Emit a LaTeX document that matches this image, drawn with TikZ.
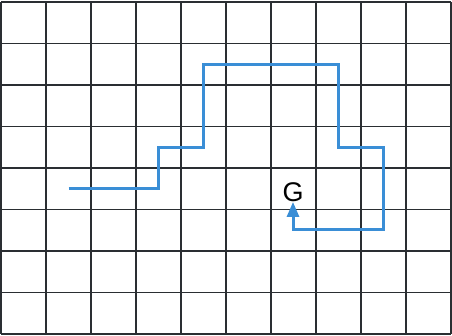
\documentclass[tikz,border=0pt]{standalone}
\usepackage{fontspec}
\setmainfont{Liberation Sans}
\usetikzlibrary{arrows.meta}
\definecolor{pathblue}{HTML}{3A8ED6}
\definecolor{gridline}{HTML}{2A2E32}
\tikzset{
  gridstyle/.style={draw=gridline, line width=1.1pt},
  route/.style={draw=pathblue, line width=3pt, line join=miter},
  goal/.style={inner sep=0pt, anchor=base, font=\fontsize{27}{27}\selectfont, text=black}
}
\begin{document}
\begin{tikzpicture}[x=1pt,y=-1pt]
\useasboundingbox (0,0) rectangle (452,336);
\fill[white] (0,0) rectangle (452,336);
% grid
\foreach \i in {0,...,10} {
  \draw[gridstyle] ({1+45*\i},2) -- ({1+45*\i},334);
}
\foreach \j in {0,...,8} {
  \draw[gridstyle] (1,{2+41.5*\j}) -- (451,{2+41.5*\j});
}
% goal
\node[goal] (G) at (293,201.5) {G};
% route
\coordinate (start) at (68.5,189);
\coordinate (c1) at (158.5,189);
\coordinate (c2) at (158.5,147.5);
\coordinate (c3) at (203.5,147.5);
\coordinate (c4) at (203.5,64.5);
\coordinate (c5) at (338.5,64.5);
\coordinate (c6) at (338.5,147.5);
\coordinate (c7) at (383.5,147.5);
\coordinate (c8) at (383.5,230);
\coordinate (c9) at (293,230);
\draw[route, -{Triangle[width=12pt,length=15pt]}] (start) -- (c1) -- (c2) -- (c3) -- (c4) -- (c5) -- (c6) -- (c7) -- (c8) -- (c9) -- (G.south);
\end{tikzpicture}
\end{document}
